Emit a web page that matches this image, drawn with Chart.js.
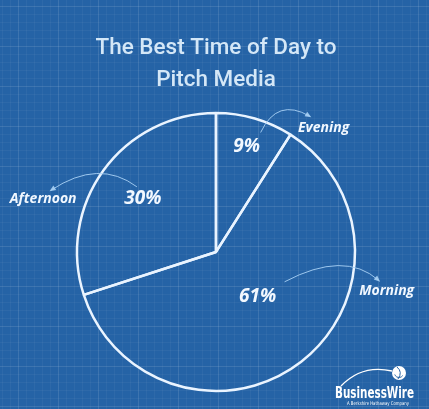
<!DOCTYPE html>
<html>
<head>
<meta charset="utf-8">
<title>The Best Time of Day to Pitch Media</title>
<script src="https://cdn.jsdelivr.net/npm/chart.js@4.4.0/dist/chart.umd.min.js"></script>
<style>
    html, body { margin: 0; padding: 0; }
    body {
        width: 429px;
        height: 409px;
        overflow: hidden;
        background-color: #2563a6;
        background-image:
            linear-gradient(rgba(255,255,255,0.07) 1px, transparent 1px),
            linear-gradient(90deg, rgba(255,255,255,0.07) 1px, transparent 1px),
            linear-gradient(rgba(255,255,255,0.04) 1px, transparent 1px),
            linear-gradient(90deg, rgba(255,255,255,0.04) 1px, transparent 1px);
        background-size: 40px 40px, 40px 40px, 8px 8px, 8px 8px;
        background-position: 18px 6px, 18px 6px, 2px 6px, 2px 6px;
    }
    canvas { display: block; }
</style>
</head>
<body>
<canvas id="pie-chart" width="429" height="409"></canvas>
<script>
// data, clockwise from 12 o'clock
const slices = ['Evening', 'Morning', 'Afternoon'];
const shares = [9, 61, 30];
const titleLines = ['The Best Time of Day to', 'Pitch Media'];

const lineColor = '#eaf4ff';
const arrowColor = 'rgba(170, 210, 245, 0.9)';

// label placement (angle tweak in degrees, distance as share of radius)
const pctPlace = [{ da: 0, r: 0.79 }, { da: -5, r: 0.44 }, { da: 0, r: 0.65 }];
const namePlace = [{ a: 41, r: 1.18 }, { a: 103, r: 1.26 }, { a: 287, r: 1.30 }];
// arrow ends relative to labels, bend relative to the midpoint
const arrowShape = [
    { from: [14, -14], to: [-14, -12], bend: [-8, -27] },
    { from: [27, -15], to: [-8, -11], bend: [13, -31] },
    { from: [-6, -12], to: [8, -9], bend: [5, -30] }
];

function polar(cx, cy, r, deg) {
    const t = deg * Math.PI / 180 - Math.PI / 2;
    return { x: cx + r * Math.cos(t), y: cy + r * Math.sin(t) };
}

const labelPlugin = {
    id: 'sliceLabels',
    afterDatasetsDraw(chart) {
        const ctx = chart.ctx;
        const arcs = chart.getDatasetMeta(0).data;
        ctx.save();
        ctx.textAlign = 'center';
        ctx.textBaseline = 'middle';
        arcs.forEach((arc, i) => {
            const { x, y, outerRadius, startAngle, endAngle } = arc.getProps(['x', 'y', 'outerRadius', 'startAngle', 'endAngle'], true);
            const midDeg = ((startAngle + endAngle) / 2 + Math.PI / 2) * 180 / Math.PI;
            const p = polar(x, y, outerRadius * pctPlace[i].r, midDeg + pctPlace[i].da);
            const n = polar(x, y, outerRadius * namePlace[i].r, namePlace[i].a);

            ctx.fillStyle = '#f2f8ff';
            ctx.font = 'italic 700 19px "Open Sans"';
            ctx.fillText(shares[i] + '%', p.x, p.y);
            ctx.font = 'italic 700 14px "Open Sans"';
            ctx.fillText(slices[i], n.x, n.y);

            // curved arrow from the share to the name
            const s = arrowShape[i];
            const a = { x: p.x + s.from[0], y: p.y + s.from[1] };
            const b = { x: n.x + s.to[0], y: n.y + s.to[1] };
            const c = { x: (a.x + b.x) / 2 + s.bend[0], y: (a.y + b.y) / 2 + s.bend[1] };
            ctx.strokeStyle = arrowColor;
            ctx.lineWidth = 1;
            ctx.beginPath();
            ctx.moveTo(a.x, a.y);
            ctx.quadraticCurveTo(c.x, c.y, b.x, b.y);
            ctx.stroke();
            const ang = Math.atan2(b.y - c.y, b.x - c.x);
            ctx.fillStyle = arrowColor;
            ctx.beginPath();
            ctx.moveTo(b.x + 2 * Math.cos(ang), b.y + 2 * Math.sin(ang));
            ctx.lineTo(b.x + 5 * Math.cos(ang + 2.6), b.y + 5 * Math.sin(ang + 2.6));
            ctx.lineTo(b.x + 5 * Math.cos(ang - 2.6), b.y + 5 * Math.sin(ang - 2.6));
            ctx.closePath();
            ctx.fill();
        });
        ctx.restore();
    }
};

const logoPlugin = {
    id: 'logo',
    afterDraw(chart) {
        const ctx = chart.ctx;
        ctx.save();
        // swoosh and globe
        ctx.strokeStyle = '#ffffff';
        ctx.lineWidth = 1.3;
        ctx.beginPath();
        ctx.moveTo(341, 386);
        ctx.quadraticCurveTo(362, 364, 392, 371);
        ctx.stroke();
        ctx.fillStyle = '#ffffff';
        ctx.beginPath();
        ctx.arc(399, 373, 7, 0, Math.PI * 2);
        ctx.fill();
        ctx.strokeStyle = '#2563a6';
        ctx.lineWidth = 1;
        ctx.beginPath();
        ctx.arc(399, 373, 4.5, 0.6, 2.8);
        ctx.stroke();
        ctx.beginPath();
        ctx.moveTo(397, 367);
        ctx.quadraticCurveTo(403, 372, 398, 379);
        ctx.stroke();

        ctx.fillStyle = '#ffffff';
        ctx.textBaseline = 'alphabetic';
        ctx.textAlign = 'left';
        ctx.font = 'bold 15px "DejaVu Sans"';
        ctx.fillText('BusinessWire', 335, 398, 79);
        ctx.font = '5px "DejaVu Sans"';
        ctx.fillText('A Berkshire Hathaway Company', 347, 405, 62);
        ctx.restore();
    }
};

const ctx = document.getElementById('pie-chart').getContext('2d');
new Chart(ctx, {
    type: 'pie',
    data: {
        labels: slices,
        datasets: [{
            data: shares,
            backgroundColor: 'rgba(0,0,0,0)',
            borderColor: lineColor,
            borderWidth: 2.5,
            radius: 139
        }]
    },
    options: {
        responsive: false,
        animation: false,
        events: [],
        layout: { padding: { left: 3, right: 0, top: 0, bottom: 1 } },
        plugins: {
            legend: { display: false },
            tooltip: { enabled: false },
            title: {
                display: true,
                text: titleLines,
                color: '#d4e7f7',
                font: { family: 'Roboto', size: 22.5, weight: '500', lineHeight: 1.42 },
                padding: { top: 32, bottom: 0 }
            }
        }
    },
    plugins: [labelPlugin, logoPlugin]
});
</script>
</body>
</html>
